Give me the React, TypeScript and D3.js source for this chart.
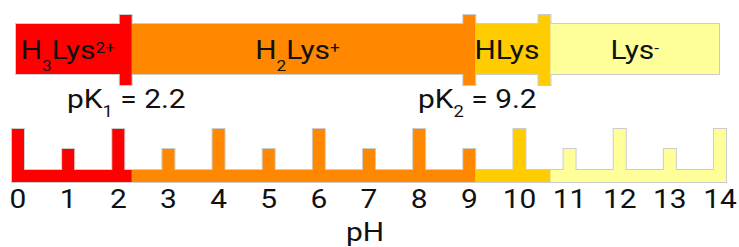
import React from 'react';
import * as d3 from 'd3';

// pH tick values on the lower ruler
const phTicks = [0, 1, 2, 3, 4, 5, 6, 7, 8, 9, 10, 11, 12, 13, 14];

// where one species gives way to the next (marker positions)
const transitions = [2.15, 9.0, 10.5];

const speciesColors = ['#ff0000', '#ff8800', '#ffcc00', '#ffff99'];

// species names as text parts: normal, sub(scripted), sup(erscripted)
const speciesNames = [
  [['H', 'n'], ['3', 'sub'], ['Lys', 'n'], ['2+', 'sup']],
  [['H', 'n'], ['2', 'sub'], ['Lys', 'n'], ['+', 'sup']],
  [['HLys', 'n']],
  [['Lys', 'n'], ['-', 'sup']],
];

const pKLabels = [
  { value: 2.2, index: '1' },
  { value: 9.2, index: '2' },
];

const W = 739;
const H = 247;
const FONT = 'Roboto, "Noto Sans", sans-serif';
const STRETCH = 1.15; // the glyphs in the picture are drawn a bit wide

export default function App() {
  const x = d3.scaleLinear().domain([0, 14]).range([18, 720]);

  const half = 6; // half width of a tick / marker
  const barLeft = x(-0.04);
  const barRight = x(13.98);
  const barTop = 24;
  const barBottom = 74;
  const markTop = 15;
  const markBottom = 85;

  // colour boundaries sit at the right edge of each marker
  const bounds = [0, ...transitions.map(t => x(t) + half), W];

  // comb-shaped ruler
  const tallTop = 129;
  const shortTop = 149;
  const baseTop = 170;
  const baseBottom = 182;
  const comb = d3.path();
  comb.moveTo(x(phTicks[0]) - half, baseBottom);
  phTicks.forEach((t, i) => {
    const top = t % 2 === 0 ? tallTop : shortTop;
    if (i > 0) comb.lineTo(x(t) - half, baseTop);
    comb.lineTo(x(t) - half, top);
    comb.lineTo(x(t) + half, top);
    if (i < phTicks.length - 1) comb.lineTo(x(t) + half, baseTop);
  });
  comb.lineTo(x(phTicks[phTicks.length - 1]) + half, baseBottom);
  comb.closePath();
  const combD = comb.toString();

  const topShapes = (
    <>
      <rect x={barLeft} y={barTop} width={barRight - barLeft} height={barBottom - barTop} />
      {transitions.map((t, i) => (
        <rect key={i} x={x(t) - half} y={markTop} width={half * 2} height={markBottom - markTop} />
      ))}
    </>
  );

  const labelCenters = speciesColors.map((c, i) => {
    const left = i === 0 ? barLeft : bounds[i];
    const right = i === speciesColors.length - 1 ? barRight : bounds[i + 1] - half * 2;
    return (left + right) / 2;
  });

  const renderParts = (parts: string[][]) => {
    let shift = 0;
    return parts.map(([t, kind], j) => {
      let target = 0;
      if (kind === 'sub') target = 12;
      if (kind === 'sup') target = -6;
      const dy = target - shift;
      shift = target;
      return (
        <tspan key={j} dy={dy} fontSize={kind === 'n' ? 26 : 15}>
          {t}
        </tspan>
      );
    });
  };

  const at = (cx: number, cy: number) => `translate(${cx},${cy}) scale(${STRETCH},1)`;

  return (
    <div style={{ position: 'absolute', left: 0, top: 0 }}>
      <svg width={W} height={H} style={{ display: 'block', background: '#fff' }}>
        <defs>
          <clipPath id="topClip">{topShapes}</clipPath>
          <clipPath id="combClip">
            <path d={combD} />
          </clipPath>
        </defs>

        {/* top species bar */}
        <g fill="#cccccc" stroke="#cccccc" strokeWidth={2}>
          {topShapes}
        </g>
        <g clipPath="url(#topClip)">
          {speciesColors.map((c, i) => (
            <rect key={i} x={bounds[i]} y={0} width={bounds[i + 1] - bounds[i]} height={100} fill={c} />
          ))}
        </g>

        {speciesNames.map((parts, i) => (
          <text
            key={i}
            transform={at(labelCenters[i], 59)}
            textAnchor="middle"
            fontFamily={FONT}
            fontSize={26}
            fill="#111"
          >
            {renderParts(parts)}
          </text>
        ))}

        {pKLabels.map((p, i) => (
          <text
            key={i}
            transform={at(x(p.value) - 2, 108)}
            textAnchor="middle"
            fontFamily={FONT}
            fontSize={26}
            fill="#111"
          >
            pK
            <tspan dy={9} fontSize={16}>
              {p.index}
            </tspan>
            <tspan dy={-9}>{` = ${p.value}`}</tspan>
          </text>
        ))}

        {/* pH ruler */}
        <path d={combD} fill="#cccccc" stroke="#cccccc" strokeWidth={2} />
        <g clipPath="url(#combClip)">
          {speciesColors.map((c, i) => (
            <rect key={i} x={bounds[i]} y={100} width={bounds[i + 1] - bounds[i]} height={100} fill={c} />
          ))}
        </g>

        {phTicks.map(t => (
          <text
            key={t}
            transform={at(x(t), 208)}
            textAnchor="middle"
            fontFamily={FONT}
            fontSize={26}
            fill="#111"
          >
            {t}
          </text>
        ))}

        <text transform={at(365, 241)} textAnchor="middle" fontFamily={FONT} fontSize={26} fill="#111">
          pH
        </text>
      </svg>
    </div>
  );
}
